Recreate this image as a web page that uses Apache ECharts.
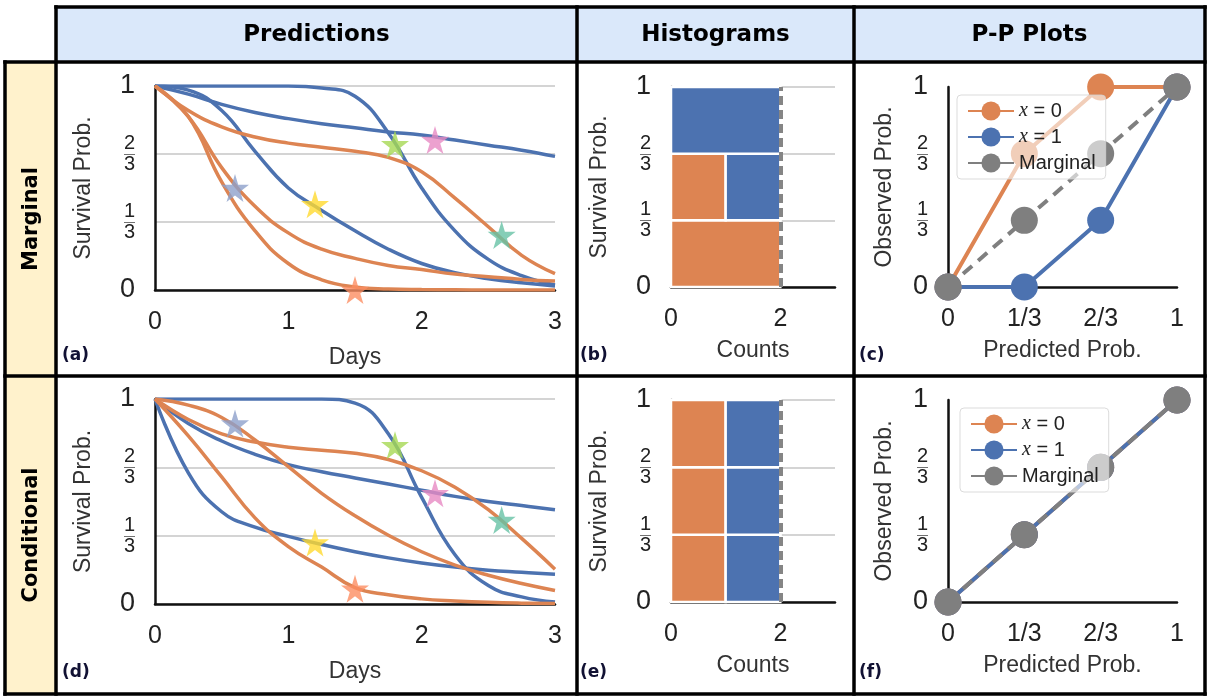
<!DOCTYPE html>
<html>
<head>
<meta charset="utf-8">
<script src="https://cdn.jsdelivr.net/npm/echarts@6/dist/echarts.min.js"></script>
<style>
  html, body { margin: 0; padding: 0; background: #fff; }
  #main { width: 1211px; height: 698px; }
</style>
</head>
<body>
<div id="main"></div>
<script>
// shared x positions (days) for the survival curves
var days = [0, 0.25, 0.5, 0.75, 1, 1.25, 1.5, 1.75, 2, 2.25, 2.5, 2.75, 3];

// (a) marginal predictions
var margBlue1 = [1, 1, 1, 1, 1, 0.99, 0.95, 0.77, 0.5, 0.29, 0.15, 0.07, 0.025];
var margBlue2 = [1, 0.96, 0.91, 0.87, 0.84, 0.815, 0.795, 0.775, 0.76, 0.735, 0.71, 0.685, 0.655];
var margBlue3 = [1, 0.98, 0.88, 0.68, 0.5, 0.39, 0.29, 0.2, 0.13, 0.085, 0.055, 0.035, 0.02];
var margOrange1 = [1, 0.88, 0.8, 0.75, 0.72, 0.7, 0.68, 0.65, 0.58, 0.45, 0.31, 0.17, 0.08];
var margOrange2 = [1, 0.85, 0.6, 0.41, 0.28, 0.2, 0.155, 0.12, 0.1, 0.078, 0.065, 0.052, 0.044];
var margOrange3 = [1, 0.85, 0.53, 0.29, 0.13, 0.05, 0.015, 0.005, 0.002, 0.001, 0, 0, 0];
var margStars = [[0.6, 0.5], [1.2, 0.42], [1.8, 0.715], [2.1, 0.735], [2.6, 0.27], [1.5, 0.0]];

// (d) conditional predictions
var condBlue1 = [1, 1, 1, 1, 1, 1, 0.98, 0.83, 0.52, 0.24, 0.09, 0.035, 0.01];
var condBlue2 = [1, 0.88, 0.795, 0.73, 0.68, 0.645, 0.615, 0.585, 0.555, 0.525, 0.5, 0.48, 0.46];
var condBlue3 = [1, 0.64, 0.45, 0.375, 0.33, 0.29, 0.255, 0.225, 0.2, 0.18, 0.165, 0.155, 0.145];
var condOrange1 = [1, 0.9, 0.83, 0.79, 0.765, 0.75, 0.735, 0.705, 0.65, 0.57, 0.46, 0.32, 0.17];
var condOrange2 = [1, 0.97, 0.91, 0.8, 0.67, 0.54, 0.43, 0.335, 0.255, 0.19, 0.14, 0.1, 0.066];
var condOrange3 = [1, 0.82, 0.62, 0.42, 0.28, 0.18, 0.08, 0.045, 0.025, 0.015, 0.008, 0.004, 0.002];
var condStars = [[0.6, 0.88], [1.2, 0.3], [1.8, 0.775], [2.1, 0.54], [2.6, 0.41], [1.5, 0.075]];

// histograms: counts per survival-prob bin (low -> high)
var binEdges = [0, 1 / 3, 2 / 3, 1];
var histMargOrange = [2, 1, 0];
var histMargBlue = [0, 1, 2];
var histCondOrange = [1, 1, 1];
var histCondBlue = [1, 1, 1];
var histExpected = 2;

// P-P plots
var ppPredicted = [0, 1 / 3, 2 / 3, 1];
var ppMargX0 = [0, 2 / 3, 1, 1];
var ppMargX1 = [0, 0, 1 / 3, 1];
var ppMargAll = [0, 1 / 3, 2 / 3, 1];
var ppCondX0 = [0, 1 / 3, 2 / 3, 1];
var ppCondX1 = [0, 1 / 3, 2 / 3, 1];
var ppCondAll = [0, 1 / 3, 2 / 3, 1];

var fracTicks = ['0', '1/3', '2/3', '1'];
var colHeaders = ['Predictions', 'Histograms', 'P-P Plots'];
var rowHeaders = ['Marginal', 'Conditional'];
var panelTags = ['(a)', '(b)', '(c)', '(d)', '(e)', '(f)'];

var ORANGE = '#DD8452', BLUE = '#4C72B0', GRAY = '#7F7F7F';
var starColors = ['#8DA0CB', '#FFD92F', '#A6D854', '#E78AC3', '#66C2A5', '#FC8D62'];
var STAR = 'path://M50,0 L61,35 L98,35 L68,57 L79,91 L50,70 L21,91 L32,57 L2,35 L39,35 Z';

var chart = echarts.init(document.getElementById('main'));

function pairs(xs, ys) {
    return xs.map(function (x, i) { return [x, ys[i]]; });
}

// y labels drawn as stacked fractions
function fracLabel(v) {
    var s = fracTicks[Math.round(v * 3)];
    if (s.indexOf('/') < 0) return '{w|' + s + '}';
    var p = s.split('/');
    return '{n|' + p[0] + '}\n{b|—}\n{n|' + p[1] + '}';
}
var fracRich = {
    w: { fontSize: 27, color: '#222', fontFamily: 'Liberation Sans' },
    n: { fontSize: 20, lineHeight: 17, color: '#222', fontFamily: 'Liberation Sans', align: 'center' },
    b: { fontSize: 11, lineHeight: 4, color: '#444', fontFamily: 'Liberation Sans', align: 'center' }
};

var tickFont = { fontSize: 25, color: '#222', fontFamily: 'Liberation Sans' };
var nameFont = { fontSize: 23, color: '#333', fontFamily: 'Liberation Sans' };

var grids = [
    { left: 155, top: 86, width: 400, height: 204 },
    { left: 671, top: 87, width: 164, height: 200 },
    { left: 948, top: 87, width: 229, height: 200 },
    { left: 155, top: 399, width: 400, height: 205 },
    { left: 671, top: 400, width: 164, height: 202 },
    { left: 948, top: 400, width: 229, height: 202 }
];

var xAxes = [], yAxes = [];
grids.forEach(function (g, i) {
    var kind = i % 3;
    var axisLine = { show: true, lineStyle: { color: '#111', width: 2.5 } };
    var xa = {
        type: 'value', gridIndex: i, min: 0, axisTick: { show: false },
        axisLine: axisLine, splitLine: { show: false },
        nameLocation: 'middle', nameTextStyle: nameFont,
        axisLabel: Object.assign({ margin: 20 }, tickFont)
    };
    var ya = {
        type: 'value', gridIndex: i, min: 0, max: 1, interval: 1 / 3,
        axisTick: { show: false }, axisLine: axisLine,
        nameLocation: 'middle', nameTextStyle: nameFont, nameGap: 60,
        axisLabel: { margin: 20, formatter: fracLabel, rich: fracRich },
        splitLine: { show: kind !== 2, lineStyle: { color: '#D4D4D4', width: 2 } }
    };
    if (kind === 0) {
        xa.max = 3; xa.interval = 1; xa.name = 'Days'; xa.nameGap = 56;
        ya.name = 'Survival Prob.';
    } else if (kind === 1) {
        xa.max = 3; xa.interval = 1; xa.name = 'Counts'; xa.nameGap = 52;
        xa.axisLabel.formatter = function (v) { return (v === 0 || v === 2) ? String(v) : ''; };
        ya.name = 'Survival Prob.';
    } else {
        xa.max = 1; xa.interval = 1 / 3; xa.name = 'Predicted Prob.'; xa.nameGap = 52;
        xa.axisLabel.formatter = function (v) { return fracTicks[Math.round(v * 3)]; };
        ya.name = 'Observed Prob.';
        ya.nameGap = 52;
    }
    xAxes.push(xa);
    yAxes.push(ya);
});

var series = [];

function addCurves(idx, blues, oranges, stars) {
    blues.concat(oranges).forEach(function (ys, k) {
        series.push({
            type: 'line', xAxisIndex: idx, yAxisIndex: idx,
            data: pairs(days, ys), smooth: 0.45,
            showSymbol: false, symbol: 'none', silent: true,
            lineStyle: { width: 3.5, color: k < blues.length ? BLUE : ORANGE }
        });
    });
    series.push({
        type: 'scatter', xAxisIndex: idx, yAxisIndex: idx, z: 5,
        symbol: STAR, symbolSize: 28, clip: false,
        data: stars.map(function (s, k) {
            return { value: s, itemStyle: { color: starColors[k] } };
        })
    });
}
addCurves(0, [margBlue1, margBlue2, margBlue3], [margOrange1, margOrange2, margOrange3], margStars);
addCurves(3, [condBlue1, condBlue2, condBlue3], [condOrange1, condOrange2, condOrange3], condStars);

function addHist(idx, orange, blue) {
    var cells = [];
    for (var b = 0; b < 3; b++) {
        if (orange[b] > 0) cells.push([0, orange[b], binEdges[b], binEdges[b + 1], 0]);
        if (blue[b] > 0) cells.push([orange[b], orange[b] + blue[b], binEdges[b], binEdges[b + 1], 1]);
    }
    series.push({
        type: 'custom', xAxisIndex: idx, yAxisIndex: idx, data: cells,
        renderItem: function (params, api) {
            var p0 = api.coord([api.value(0), api.value(3)]);
            var p1 = api.coord([api.value(1), api.value(2)]);
            return {
                type: 'rect',
                shape: { x: p0[0], y: p0[1], width: p1[0] - p0[0], height: p1[1] - p0[1] },
                style: { fill: api.value(4) === 0 ? ORANGE : BLUE, stroke: '#fff', lineWidth: 2.5 }
            };
        },
        markLine: {
            silent: true, symbol: 'none', label: { show: false },
            lineStyle: { color: '#858585', type: [9, 5], width: 4 },
            data: [{ xAxis: histExpected }]
        }
    });
}
addHist(1, histMargOrange, histMargBlue);
addHist(4, histCondOrange, histCondBlue);

function addPP(idx, x0, x1, all) {
    [['x = 0', x0, ORANGE, 'solid'], ['x = 1', x1, BLUE, 'solid'], ['Marginal', all, GRAY, [12, 8]]]
        .forEach(function (s) {
            series.push({
                type: 'line', name: s[0], xAxisIndex: idx, yAxisIndex: idx,
                data: pairs(ppPredicted, s[1]), clip: false,
                symbol: 'circle', symbolSize: 27,
                itemStyle: { color: s[2] },
                lineStyle: { color: s[2], width: 4, type: s[3] }
            });
        });
}
addPP(2, ppMargX0, ppMargX1, ppMargAll);
addPP(5, ppCondX0, ppCondX1, ppCondAll);

function ppLegend(left, top) {
    return {
        left: left, top: top, orient: 'vertical', z: 10,
        data: ['x = 0', 'x = 1', { name: 'Marginal', lineStyle: { type: 'solid' } }],
        itemWidth: 46, itemHeight: 24, itemGap: 6,
        padding: [6, 10, 6, 10],
        backgroundColor: 'rgba(255,255,255,0.6)',
        borderColor: 'rgba(210,210,210,0.8)', borderWidth: 1, borderRadius: 4,
        selectedMode: false,
        formatter: function (name) {
            return name.indexOf('x = ') === 0 ? '{i|x} = ' + name.slice(4) : name;
        },
        textStyle: {
            fontSize: 20, color: '#222', fontFamily: 'Liberation Sans',
            rich: { i: { fontStyle: 'italic', fontSize: 20, fontFamily: 'Liberation Serif' } }
        }
    };
}

// table frame, headers and panel tags
var graphics = [];
var L = 5, C0 = 56, C1 = 577, C2 = 854, R = 1205, T = 7, H = 62, M = 376, B = 694;
graphics.push({ type: 'rect', shape: { x: C0, y: T, width: R - C0, height: H - T }, style: { fill: '#DAE8FA' }, z: 0 });
graphics.push({ type: 'rect', shape: { x: L, y: H, width: C0 - L, height: B - H }, style: { fill: '#FFF2CC' }, z: 0 });
[[C0, T, R, T], [L, H, R, H], [L, M, R, M], [L, B, R, B],
 [L, H, L, B], [C0, T, C0, B], [C1, T, C1, B], [C2, T, C2, B], [R, T, R, B]]
    .forEach(function (l) {
        graphics.push({
            type: 'line', z: 1, shape: { x1: l[0], y1: l[1], x2: l[2], y2: l[3] },
            style: { stroke: '#000', lineWidth: 3.5, lineCap: 'square' }
        });
    });
var headerX = [(C0 + C1) / 2, (C1 + C2) / 2, (C2 + R) / 2];
colHeaders.forEach(function (t, i) {
    graphics.push({
        type: 'text', x: headerX[i], y: (T + H) / 2 + 1, z: 2,
        style: { text: t, fill: '#000', font: 'bold 23px "DejaVu Sans"', align: 'center', verticalAlign: 'middle' }
    });
});
rowHeaders.forEach(function (t, i) {
    graphics.push({
        type: 'text', x: (L + C0) / 2 + 1, y: i === 0 ? (H + M) / 2 : (M + B) / 2, rotation: Math.PI / 2, z: 2,
        style: { text: t, fill: '#000', font: 'bold 21px "DejaVu Sans"', align: 'center', verticalAlign: 'middle' }
    });
});
var tagX = [62, 580, 859];
panelTags.forEach(function (t, i) {
    graphics.push({
        type: 'text', x: tagX[i % 3], y: i < 3 ? 356 : 673, z: 2,
        style: { text: t, fill: '#111133', font: 'bold 17px "DejaVu Sans"', verticalAlign: 'middle' }
    });
});

var option = {
    animation: false,
    grid: grids,
    xAxis: xAxes,
    yAxis: yAxes,
    legend: [ppLegend(957, 95), ppLegend(960, 408)],
    series: series,
    graphic: graphics
};

chart.setOption(option, true);
</script>
</body>
</html>
